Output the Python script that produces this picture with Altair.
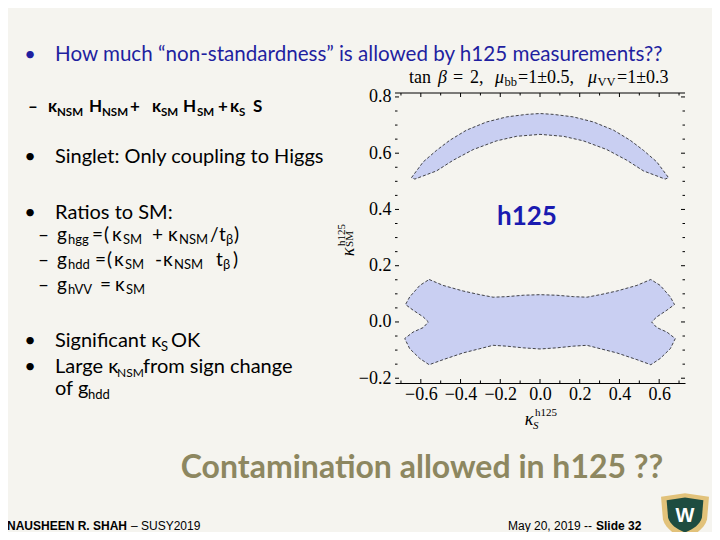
import altair as alt
import pandas as pd

# ---------------- data ----------------
upper_x = [-0.647, -0.588, -0.521, -0.454, -0.370, -0.269, -0.168, -0.067, 0.0,
           0.067, 0.168, 0.269, 0.370, 0.454, 0.521, 0.588, 0.647,
           0.630, 0.521, 0.437, 0.336, 0.218, 0.118, 0.0,
           -0.118, -0.218, -0.336, -0.437, -0.521, -0.630]
upper_y = [0.513, 0.569, 0.610, 0.646, 0.682, 0.711, 0.729, 0.738, 0.741,
           0.738, 0.729, 0.711, 0.682, 0.646, 0.610, 0.569, 0.513,
           0.508, 0.537, 0.575, 0.613, 0.644, 0.660, 0.667,
           0.660, 0.644, 0.613, 0.575, 0.537, 0.508]

lower_x = [-0.558, -0.488, -0.387, -0.303, -0.236, -0.168, -0.084, 0.0, 0.084, 0.168, 0.236, 0.303, 0.387, 0.488, 0.558,
           0.605, 0.656, 0.677, 0.639, 0.588, 0.562, 0.588, 0.639, 0.681, 0.656, 0.605, 0.558,
           0.488, 0.387, 0.303, 0.236, 0.168, 0.084, 0.0, -0.084, -0.168, -0.236, -0.303, -0.387, -0.488, -0.558,
           -0.605, -0.656, -0.681, -0.639, -0.588, -0.562, -0.588, -0.639, -0.677, -0.656, -0.605]
lower_y = [0.151, 0.130, 0.110, 0.097, 0.088, 0.090, 0.095, 0.097, 0.095, 0.090, 0.088, 0.097, 0.110, 0.130, 0.151,
           0.130, 0.089, 0.062, 0.042, 0.018, 0.0, -0.020, -0.036, -0.059, -0.095, -0.130, -0.152,
           -0.134, -0.110, -0.095, -0.083, -0.086, -0.092, -0.096, -0.092, -0.086, -0.083, -0.095, -0.110, -0.134, -0.152,
           -0.130, -0.095, -0.059, -0.036, -0.020, 0.0, 0.018, 0.042, 0.062, 0.089, 0.130]

x_major = [-0.6, -0.4, -0.2, 0.0, 0.2, 0.4, 0.6]
x_minor = [-0.7, -0.5, -0.3, -0.1, 0.1, 0.3, 0.5, 0.7]
y_major = [-0.2, 0.0, 0.2, 0.4, 0.6, 0.8]
y_minor = [-0.15, -0.1, -0.05, 0.05, 0.1, 0.15, 0.25, 0.3, 0.35,
           0.45, 0.5, 0.55, 0.65, 0.7, 0.75]

# ---------------- layout ----------------
OX, OY = 395, 93      # plot origin on the page
W, H = 290, 290
BG = "#f5f4ef"
BLUE = "#1f1fa0"
FILL = "#c9cff2"

rows = []
for name, xs_, ys_ in (("upper", upper_x, upper_y), ("lower", lower_x, lower_y)):
    pts = list(zip(xs_, ys_)) + [(xs_[0], ys_[0])]
    for i, (a, b) in enumerate(pts):
        rows.append({"shape": name, "order": i, "x": a, "y": b})
poly_df = pd.DataFrame(rows)
dummy = pd.DataFrame({"d": [0]})

xs = alt.Scale(domain=[-0.73, 0.73], nice=False, zero=False)
ys = alt.Scale(domain=[-0.217, 0.814], nice=False, zero=False)
serif = "Liberation Serif"
xaxis = alt.Axis(values=x_major, format=".1f", title=None, labelFont=serif, labelFontSize=18,
                 labelColor="black", ticks=False, tickSize=0, domain=True, domainColor="black",
                 domainWidth=1, grid=False, labelPadding=2, labelOverlap=False, labelFlush=False)
yaxis = alt.Axis(values=y_major, format=".1f", title=None, labelFont=serif, labelFontSize=18,
                 labelColor="black", ticks=False, tickSize=0, domain=False, grid=False,
                 labelPadding=4, labelOverlap=False, labelFlush=False)

X = lambda f: alt.X(f, scale=xs, axis=xaxis)
Y = lambda f: alt.Y(f, scale=ys, axis=yaxis)

layers = []
fill = alt.Chart(poly_df).mark_line(fill=FILL, stroke=FILL, strokeWidth=0.5).encode(
    x=X("x:Q"), y=Y("y:Q"), detail="shape:N", order="order:Q")
outline = alt.Chart(poly_df).mark_line(color="#333333", strokeDash=[3, 2], strokeWidth=0.9).encode(
    x=X("x:Q"), y=Y("y:Q"), detail="shape:N", order="order:Q")
layers += [fill, outline]

def yticks(vals, ln):
    d = pd.DataFrame({"v": vals})
    a = alt.Chart(d).mark_rule(color="black", strokeWidth=1).encode(y=Y("v:Q"), x=alt.value(0), x2=alt.value(ln))
    b = alt.Chart(d).mark_rule(color="black", strokeWidth=1).encode(y=Y("v:Q"), x=alt.value(W - ln), x2=alt.value(W))
    return [a, b]

def xticks(vals, ln):
    d = pd.DataFrame({"v": vals})
    a = alt.Chart(d).mark_rule(color="black", strokeWidth=1).encode(x=X("v:Q"), y=alt.value(H - ln), y2=alt.value(H))
    b = alt.Chart(d).mark_rule(color="black", strokeWidth=1).encode(x=X("v:Q"), y=alt.value(0), y2=alt.value(ln))
    return [a, b]

layers += yticks(y_major, 4) + yticks(y_minor, 2.5) + xticks(x_major, 4) + xticks(x_minor, 2.5)
layers.append(alt.Chart(dummy).mark_rule(color="black", strokeWidth=1).encode(
    x=alt.value(0), x2=alt.value(W), y=alt.value(0)))


def T(text, px, py, size, font="Lato", weight="normal", color="black", align="left",
      baseline="alphabetic", angle=0, style="normal"):
    kw = dict(text=text, fontSize=size, font=font, fontWeight=weight, color=color,
              align=align, baseline=baseline, fontStyle=style)
    if angle:
        kw["angle"] = angle
    return alt.Chart(dummy).mark_text(**kw).encode(x=alt.value(px - OX), y=alt.value(py - OY))

# ---- slide text ----
S = 20
layers.append(T("•", 30, 61, S, color=BLUE, align="center"))
layers.append(T("How much “non-standardness” is allowed by h125 measurements??", 55, 61, 20.6, color=BLUE))

for t, x in (("–", 28), ("κ", 48), ("H", 89), ("+", 130), ("κ", 152), ("H", 183), ("+", 218), ("κ", 230), ("S", 253)):
    layers.append(T(t, x, 112, 17, weight="bold"))
for t, x in (("NSM", 57), ("NSM", 102), ("SM", 161), ("SM", 197), ("S", 239)):
    layers.append(T(t, x, 116, 11.5, weight="bold"))

layers.append(T("•", 30, 163, S, align="center"))
layers.append(T("Singlet: Only coupling to Higgs", 55, 163, S))
layers.append(T("•", 30, 219, S, align="center"))
layers.append(T("Ratios to SM:", 55, 219, S))

sub_lines = [
    (241, [("–", 38), ("g", 57), ("=", 92), ("(", 104), ("κ", 112), ("+", 152), ("κ", 168),
           ("/", 210), ("t", 219), (")", 234)],
          [("hgg", 68), ("SM", 123), ("NSM", 179), ("β", 226)]),
    (266, [("–", 38), ("g", 57), ("=", 95), ("(", 107), ("κ", 114), ("-", 155), ("κ", 163),
           ("t", 216), (")", 233)],
          [("hdd", 68), ("SM", 125), ("NSM", 174), ("β", 223)]),
    (291, [("–", 38), ("g", 57), ("=", 100), ("κ", 115)],
          [("hVV", 68), ("SM", 126)]),
]
for base, mains, subs in sub_lines:
    for t, x in mains:
        layers.append(T(t, x, base, 19))
    for t, x in subs:
        layers.append(T(t, x, base + 3, 13))

layers.append(T("•", 30, 347, S, align="center"))
layers.append(T("Significant κ", 55, 347, S))
layers.append(T("S", 161, 351, 13))
layers.append(T("OK", 171, 347, S))
layers.append(T("•", 30, 373, S, align="center"))
layers.append(T("Large κ", 55, 373, S))
layers.append(T("NSM", 117, 377, 12))
layers.append(T("from sign change", 143, 373, S))
layers.append(T("of g", 55, 395, S))
layers.append(T("hdd", 88, 399, 13))

# ---- chart title ----
for t, x, st in (("tan", 409, "normal"), ("β", 438, "italic"), ("=", 453, "normal"), ("2,", 470, "normal"),
                 ("μ", 495, "italic"), ("=1±0.5,", 518, "normal"), ("μ", 588, "italic"), ("=1±0.3", 617, "normal")):
    layers.append(T(t, x, 83, 18, font=serif, style=st))
layers.append(T("bb", 504.5, 86, 12.5, font=serif))
layers.append(T("VV", 597.5, 86, 12.5, font=serif))

# ---- axis titles ----
layers.append(T("κ", 349, 252, 18, font=serif, style="italic", align="center", baseline="middle", angle=270))
layers.append(T("h125", 342, 235, 11, font=serif, align="center", baseline="middle", angle=270))
layers.append(T("SM", 350, 239, 11, font=serif, align="center", baseline="middle", angle=270))
layers.append(T("κ", 529, 425, 18, font=serif, style="italic", align="center"))
layers.append(T("h125", 535, 416, 11, font=serif))
layers.append(T("S", 533, 429, 11, font=serif, style="italic"))

# ---- h125 label ----
layers.append(T("h125", 527, 225, 26, weight="bold", color="#1a1ab0", align="center"))

# ---- big caption ----
layers.append(T("Contamination allowed in h125 ??", 422, 478, 32,
                font="Lato", weight="bold", color="#8d8760", align="center"))

# ---- footer ----
layers.append(T("NAUSHEEN R. SHAH", 7, 530, 12, font="Liberation Sans", weight="bold"))
layers.append(T("– SUSY2019", 131, 530, 12, font="Liberation Sans"))
layers.append(T("May 20, 2019 --", 508, 530, 12, font="Liberation Sans"))
layers.append(T("Slide 32", 596, 530, 12, font="Liberation Sans", weight="bold"))

# ---- logo ----
shield = "M-1,-0.8 L0,-0.95 L1,-0.8 L0.92,0.15 C0.8,0.55 0.4,0.8 0,0.95 C-0.4,0.8 -0.8,0.55 -0.92,0.15 Z"
layers.append(alt.Chart(dummy).mark_point(shape=shield, filled=True, fill="#e2c27a", size=2300, opacity=1,
                                          strokeWidth=0).encode(x=alt.value(685 - OX), y=alt.value(516 - OY)))
layers.append(alt.Chart(dummy).mark_point(shape=shield, filled=True, fill="#1e4c40", size=1350, opacity=1,
                                          strokeWidth=0).encode(x=alt.value(685 - OX), y=alt.value(515 - OY)))
layers.append(T("W", 685, 522, 20, font="Liberation Sans", weight="bold", color="white", align="center"))

chart = alt.layer(*layers).properties(
    width=W, height=H,
    padding={"left": OX - 8, "top": OY - 8, "right": 704 - (OX - 8) - W, "bottom": 524 - (OY - 8) - H},
    autosize=alt.AutoSizeParams(type="none"),
    background=BG,
).configure_view(strokeOpacity=0)

chart.save("out.html", embed_options={"renderer": "svg", "actions": False})
